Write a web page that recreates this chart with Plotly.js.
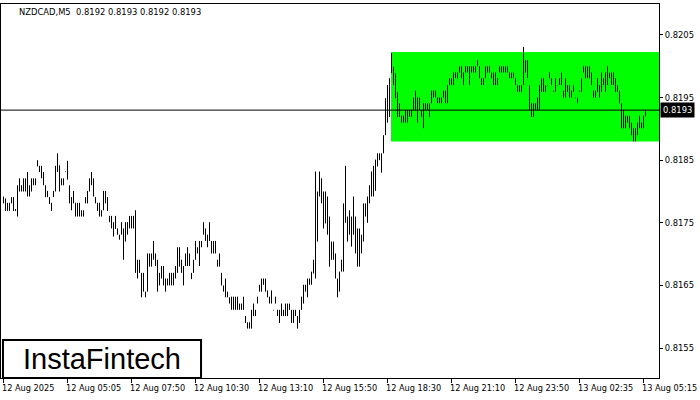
<!DOCTYPE html>
<html>
<head>
<meta charset="utf-8">
<script src="https://cdn.plot.ly/plotly-3.0.1.min.js"></script>
<style>html,body{margin:0;padding:0;background:#fff}#chart{width:700px;height:400px}</style>
</head>
<body>
<div id="chart"></div>
<script>
const symbolTitle = "NZDCAD,M5  0.8192 0.8193 0.8192 0.8193";
const tickIndex = [0, 32, 64, 96, 128, 160, 192, 224, 256, 288, 320];
const tickLabels = ["12 Aug 2025","12 Aug 05:05","12 Aug 07:50","12 Aug 10:30","12 Aug 13:10","12 Aug 15:50","12 Aug 18:30","12 Aug 21:10","12 Aug 23:50","13 Aug 02:35","13 Aug 05:15"];
const priceTicks = [0.8155, 0.8165, 0.8175, 0.8185, 0.8195, 0.8205];
const priceTickLabels = ["0.8155","0.8165","0.8175","0.8185","0.8195","0.8205"];
const lastPrice = 0.8193;
const zoneTop = 0.82023;
const zoneBottom = 0.81880;
const zoneStartBar = 194;

const high = [0.81792,0.81789,0.81782,0.81782,0.81791,0.81791,0.81772,0.81810,0.81821,0.81810,0.81821,0.81821,0.81831,0.81810,0.81821,0.81821,0.81821,0.81850,0.81841,0.81841,
0.81831,0.81810,0.81801,0.81791,0.81782,0.81801,0.81841,0.81861,0.81842,0.81821,0.81821,0.81832,0.81849,0.81810,0.81791,0.81801,0.81782,0.81782,0.81782,0.81770,
0.81770,0.81791,0.81801,0.81821,0.81831,0.81821,0.81791,0.81782,0.81782,0.81770,0.81801,0.81801,0.81791,0.81761,0.81761,0.81751,0.81761,0.81741,0.81731,0.81751,
0.81741,0.81751,0.81751,0.81761,0.81761,0.81761,0.81770,0.81691,0.81691,0.81670,0.81670,0.81640,0.81701,0.81701,0.81701,0.81721,0.81701,0.81691,0.81670,0.81681,
0.81681,0.81661,0.81661,0.81670,0.81670,0.81670,0.81681,0.81711,0.81711,0.81691,0.81681,0.81701,0.81711,0.81701,0.81670,0.81691,0.81721,0.81711,0.81721,0.81721,
0.81751,0.81741,0.81731,0.81751,0.81721,0.81721,0.81721,0.81691,0.81701,0.81670,0.81650,0.81661,0.81640,0.81631,0.81632,0.81632,0.81632,0.81632,0.81621,0.81621,
0.81632,0.81601,0.81591,0.81591,0.81611,0.81621,0.81611,0.81632,0.81651,0.81661,0.81661,0.81661,0.81642,0.81632,0.81642,0.81611,0.81632,0.81611,0.81611,0.81621,
0.81611,0.81621,0.81621,0.81621,0.81611,0.81611,0.81611,0.81601,0.81611,0.81632,0.81651,0.81651,0.81661,0.81661,0.81672,0.81691,0.81832,0.81800,0.81832,0.81821,
0.81800,0.81800,0.81792,0.81760,0.81720,0.81720,0.81701,0.81661,0.81672,0.81691,0.81781,0.81841,0.81760,0.81770,0.81760,0.81792,0.81760,0.81741,0.81741,0.81731,
0.81781,0.81781,0.81792,0.81810,0.81832,0.81841,0.81851,0.81861,0.81861,0.81861,0.81890,0.81949,0.81970,0.81981,0.82021,0.81999,0.81989,0.81959,0.81941,0.81921,
0.81921,0.81930,0.81930,0.81930,0.81930,0.81950,0.81961,0.81950,0.81950,0.81930,0.81941,0.81941,0.81941,0.81941,0.81961,0.81961,0.81961,0.81950,0.81950,0.81950,
0.81961,0.81961,0.81970,0.81981,0.81981,0.81990,0.81990,0.81990,0.82000,0.82000,0.81990,0.82000,0.82000,0.82000,0.82000,0.82000,0.82000,0.82010,0.82000,0.81981,
0.81981,0.82000,0.82000,0.82000,0.81990,0.81990,0.81990,0.81981,0.82000,0.82000,0.82000,0.82000,0.82000,0.81990,0.81990,0.81990,0.81981,0.81970,0.81970,0.81970,
0.82031,0.82010,0.82010,0.81970,0.81941,0.81941,0.81941,0.81950,0.81970,0.81981,0.81981,0.81970,0.81970,0.81990,0.81981,0.81961,0.81981,0.81970,0.81981,0.81990,
0.81961,0.81981,0.81970,0.81970,0.81961,0.81970,0.81950,0.81950,0.81961,0.81981,0.82000,0.82000,0.82000,0.82000,0.81990,0.81961,0.81961,0.81981,0.81970,0.81990,
0.81981,0.81990,0.82000,0.81990,0.81990,0.81990,0.81981,0.81970,0.81961,0.81941,0.81930,0.81921,0.81921,0.81921,0.81910,0.81901,0.81901,0.81910,0.81921,0.81910,
0.81921,0.81930];

const low = [0.81781,0.81769,0.81769,0.81769,0.81781,0.81769,0.81769,0.81760,0.81800,0.81800,0.81800,0.81800,0.81792,0.81792,0.81800,0.81810,0.81810,0.81840,0.81831,0.81821,
0.81810,0.81791,0.81791,0.81780,0.81769,0.81791,0.81800,0.81831,0.81800,0.81810,0.81810,0.81831,0.81819,0.81781,0.81770,0.81781,0.81760,0.81760,0.81760,0.81760,
0.81760,0.81781,0.81781,0.81800,0.81810,0.81792,0.81781,0.81769,0.81760,0.81760,0.81770,0.81781,0.81769,0.81751,0.81741,0.81728,0.81740,0.81731,0.81723,0.81731,
0.81691,0.81720,0.81731,0.81741,0.81741,0.81741,0.81670,0.81661,0.81670,0.81631,0.81640,0.81631,0.81640,0.81680,0.81680,0.81691,0.81681,0.81640,0.81650,0.81661,
0.81650,0.81640,0.81650,0.81650,0.81650,0.81650,0.81661,0.81670,0.81680,0.81670,0.81650,0.81681,0.81681,0.81681,0.81660,0.81670,0.81691,0.81701,0.81681,0.81711,
0.81731,0.81721,0.81711,0.81721,0.81701,0.81701,0.81701,0.81680,0.81680,0.81650,0.81640,0.81631,0.81631,0.81621,0.81611,0.81611,0.81611,0.81611,0.81611,0.81611,
0.81611,0.81590,0.81581,0.81581,0.81581,0.81601,0.81601,0.81621,0.81640,0.81640,0.81651,0.81640,0.81631,0.81621,0.81621,0.81610,0.81621,0.81601,0.81590,0.81601,
0.81601,0.81601,0.81601,0.81611,0.81590,0.81590,0.81601,0.81581,0.81590,0.81611,0.81621,0.81640,0.81631,0.81651,0.81651,0.81669,0.81661,0.81720,0.81792,0.81781,
0.81741,0.81749,0.81731,0.81680,0.81691,0.81691,0.81661,0.81631,0.81640,0.81672,0.81672,0.81750,0.81720,0.81731,0.81712,0.81731,0.81701,0.81680,0.81680,0.81701,
0.81720,0.81760,0.81750,0.81781,0.81792,0.81792,0.81801,0.81840,0.81850,0.81830,0.81861,0.81890,0.81910,0.81919,0.81989,0.81970,0.81949,0.81919,0.81919,0.81910,
0.81910,0.81910,0.81910,0.81919,0.81919,0.81930,0.81930,0.81910,0.81930,0.81919,0.81901,0.81930,0.81930,0.81919,0.81941,0.81950,0.81950,0.81941,0.81941,0.81941,
0.81950,0.81941,0.81941,0.81970,0.81970,0.81970,0.81981,0.81981,0.81990,0.81981,0.81970,0.81990,0.81990,0.81970,0.81990,0.81990,0.81990,0.82000,0.81981,0.81970,
0.81970,0.81981,0.81990,0.81990,0.81981,0.81970,0.81970,0.81970,0.81990,0.81990,0.81990,0.81990,0.81990,0.81981,0.81981,0.81981,0.81970,0.81959,0.81959,0.81959,
0.81970,0.81990,0.81981,0.81930,0.81919,0.81919,0.81930,0.81930,0.81930,0.81959,0.81959,0.81959,0.81969,0.81981,0.81970,0.81959,0.81959,0.81969,0.81970,0.81970,
0.81950,0.81950,0.81959,0.81950,0.81950,0.81959,0.81949,0.81941,0.81959,0.81959,0.81990,0.81981,0.81981,0.81981,0.81970,0.81950,0.81950,0.81959,0.81950,0.81959,
0.81970,0.81959,0.81970,0.81981,0.81970,0.81970,0.81959,0.81959,0.81941,0.81901,0.81901,0.81901,0.81910,0.81901,0.81890,0.81880,0.81880,0.81890,0.81901,0.81901,
0.81901,0.81920];

const open = [0.81792,0.81789,0.81782,0.81769,0.81791,0.81791,0.81769,0.81760,0.81821,0.81800,0.81800,0.81800,0.81831,0.81792,0.81800,0.81810,0.81810,0.81850,0.81841,0.81841,
0.81831,0.81810,0.81801,0.81791,0.81769,0.81791,0.81800,0.81861,0.81842,0.81821,0.81810,0.81831,0.81849,0.81810,0.81770,0.81801,0.81782,0.81782,0.81782,0.81770,
0.81760,0.81781,0.81781,0.81800,0.81831,0.81821,0.81791,0.81782,0.81782,0.81760,0.81770,0.81801,0.81791,0.81761,0.81761,0.81728,0.81761,0.81741,0.81723,0.81751,
0.81691,0.81720,0.81731,0.81741,0.81741,0.81761,0.81770,0.81661,0.81691,0.81631,0.81670,0.81631,0.81640,0.81680,0.81680,0.81721,0.81701,0.81691,0.81650,0.81681,
0.81681,0.81640,0.81650,0.81650,0.81650,0.81650,0.81661,0.81670,0.81711,0.81691,0.81650,0.81681,0.81711,0.81701,0.81660,0.81670,0.81691,0.81711,0.81681,0.81711,
0.81751,0.81741,0.81711,0.81751,0.81721,0.81721,0.81721,0.81680,0.81701,0.81670,0.81640,0.81661,0.81640,0.81631,0.81632,0.81632,0.81632,0.81632,0.81621,0.81611,
0.81632,0.81601,0.81591,0.81581,0.81581,0.81621,0.81601,0.81621,0.81640,0.81640,0.81661,0.81661,0.81642,0.81621,0.81642,0.81610,0.81632,0.81611,0.81590,0.81621,
0.81601,0.81601,0.81601,0.81621,0.81611,0.81590,0.81611,0.81581,0.81590,0.81611,0.81621,0.81640,0.81631,0.81651,0.81651,0.81669,0.81661,0.81720,0.81832,0.81821,
0.81741,0.81800,0.81792,0.81760,0.81720,0.81720,0.81701,0.81631,0.81640,0.81672,0.81672,0.81841,0.81720,0.81770,0.81712,0.81792,0.81760,0.81741,0.81680,0.81701,
0.81720,0.81760,0.81750,0.81781,0.81792,0.81792,0.81801,0.81840,0.81861,0.81830,0.81861,0.81890,0.81910,0.81919,0.82021,0.81999,0.81989,0.81959,0.81941,0.81921,
0.81910,0.81910,0.81910,0.81919,0.81919,0.81930,0.81961,0.81910,0.81950,0.81930,0.81901,0.81930,0.81941,0.81919,0.81941,0.81950,0.81961,0.81950,0.81950,0.81941,
0.81961,0.81941,0.81941,0.81970,0.81970,0.81970,0.81981,0.81981,0.82000,0.82000,0.81970,0.81990,0.82000,0.81970,0.81990,0.81990,0.81990,0.82010,0.82000,0.81981,
0.81970,0.81981,0.81990,0.82000,0.81990,0.81990,0.81990,0.81970,0.81990,0.81990,0.81990,0.81990,0.82000,0.81990,0.81990,0.81990,0.81981,0.81970,0.81970,0.81959,
0.82031,0.82010,0.82010,0.81970,0.81941,0.81919,0.81930,0.81930,0.81930,0.81959,0.81981,0.81959,0.81969,0.81990,0.81981,0.81959,0.81959,0.81969,0.81970,0.81990,
0.81950,0.81981,0.81970,0.81970,0.81950,0.81970,0.81950,0.81941,0.81959,0.81959,0.82000,0.82000,0.82000,0.82000,0.81990,0.81961,0.81950,0.81981,0.81950,0.81959,
0.81981,0.81959,0.81970,0.81990,0.81990,0.81990,0.81981,0.81970,0.81961,0.81941,0.81930,0.81901,0.81921,0.81921,0.81910,0.81901,0.81880,0.81890,0.81921,0.81901,
0.81901,0.81920];

const close = [0.81781,0.81769,0.81769,0.81782,0.81781,0.81769,0.81772,0.81810,0.81800,0.81810,0.81821,0.81821,0.81792,0.81810,0.81821,0.81821,0.81821,0.81840,0.81831,0.81821,
0.81810,0.81791,0.81791,0.81780,0.81782,0.81801,0.81841,0.81831,0.81800,0.81810,0.81821,0.81832,0.81819,0.81781,0.81791,0.81781,0.81760,0.81760,0.81760,0.81760,
0.81770,0.81791,0.81801,0.81821,0.81810,0.81792,0.81781,0.81769,0.81760,0.81770,0.81801,0.81781,0.81769,0.81751,0.81741,0.81751,0.81740,0.81731,0.81731,0.81731,
0.81741,0.81751,0.81751,0.81761,0.81761,0.81741,0.81670,0.81691,0.81670,0.81670,0.81640,0.81640,0.81701,0.81701,0.81701,0.81691,0.81681,0.81640,0.81670,0.81661,
0.81650,0.81661,0.81661,0.81670,0.81670,0.81670,0.81681,0.81711,0.81680,0.81670,0.81681,0.81701,0.81681,0.81681,0.81670,0.81691,0.81721,0.81701,0.81721,0.81721,
0.81731,0.81721,0.81731,0.81721,0.81701,0.81701,0.81701,0.81691,0.81680,0.81650,0.81650,0.81631,0.81631,0.81621,0.81611,0.81611,0.81611,0.81611,0.81611,0.81621,
0.81611,0.81590,0.81581,0.81591,0.81611,0.81601,0.81611,0.81632,0.81651,0.81661,0.81651,0.81640,0.81631,0.81632,0.81621,0.81611,0.81621,0.81601,0.81611,0.81601,
0.81611,0.81621,0.81621,0.81611,0.81590,0.81611,0.81601,0.81601,0.81611,0.81632,0.81651,0.81651,0.81661,0.81661,0.81672,0.81691,0.81832,0.81800,0.81792,0.81781,
0.81800,0.81749,0.81731,0.81680,0.81691,0.81691,0.81661,0.81661,0.81672,0.81691,0.81781,0.81750,0.81760,0.81731,0.81760,0.81731,0.81701,0.81680,0.81741,0.81731,
0.81781,0.81781,0.81792,0.81810,0.81832,0.81841,0.81851,0.81861,0.81850,0.81861,0.81890,0.81949,0.81970,0.81981,0.81989,0.81970,0.81949,0.81919,0.81919,0.81910,
0.81921,0.81930,0.81930,0.81930,0.81930,0.81950,0.81930,0.81950,0.81930,0.81919,0.81941,0.81941,0.81930,0.81941,0.81961,0.81961,0.81950,0.81941,0.81941,0.81950,
0.81950,0.81961,0.81970,0.81981,0.81981,0.81990,0.81990,0.81990,0.81990,0.81981,0.81990,0.82000,0.81990,0.82000,0.82000,0.82000,0.82000,0.82000,0.81981,0.81970,
0.81981,0.82000,0.82000,0.81990,0.81981,0.81970,0.81970,0.81981,0.82000,0.82000,0.82000,0.82000,0.81990,0.81981,0.81981,0.81981,0.81970,0.81959,0.81959,0.81970,
0.81970,0.81990,0.81981,0.81930,0.81919,0.81941,0.81941,0.81950,0.81970,0.81981,0.81959,0.81970,0.81970,0.81981,0.81970,0.81961,0.81981,0.81970,0.81981,0.81970,
0.81961,0.81950,0.81959,0.81950,0.81961,0.81959,0.81949,0.81950,0.81961,0.81981,0.81990,0.81981,0.81981,0.81981,0.81970,0.81950,0.81961,0.81959,0.81970,0.81990,
0.81970,0.81990,0.82000,0.81981,0.81970,0.81970,0.81959,0.81959,0.81941,0.81901,0.81901,0.81921,0.81910,0.81901,0.81890,0.81880,0.81901,0.81910,0.81901,0.81910,
0.81921,0.81930];

const barIndex = high.map((_, i) => i);
const font = "DejaVu Sans, Verdana, sans-serif";
const logoFont = "Liberation Sans, Arial, sans-serif";

const trace = {
  type: "ohlc",
  x: barIndex, open: open, high: high, low: low, close: close,
  increasing: {line: {color: "#000000", width: 1}},
  decreasing: {line: {color: "#000000", width: 1}},
  tickwidth: 0,
  hoverinfo: "skip",
  showlegend: false
};

const timeLabelAnnotations = tickIndex.map((idx, k) => ({
  text: tickLabels[k], xref: "x", yref: "paper", x: idx, y: -0.0275,
  xanchor: "left", yanchor: "middle", xshift: -3, borderpad: 0, showarrow: false,
  font: {family: font, size: 8.2, color: "#000000"}
}));

const layout = {
  width: 700, height: 400,
  margin: {l: 1, r: 41, t: 4, b: 22, pad: 0},
  paper_bgcolor: "#ffffff", plot_bgcolor: "#ffffff",
  showlegend: false,
  xaxis: {
    range: [-1.25, 327.75], fixedrange: true,
    rangeslider: {visible: false},
    showgrid: false, zeroline: false,
    showline: true, mirror: true, linecolor: "#000000", linewidth: 1,
    ticks: "outside", ticklen: 4, tickcolor: "#000000", tickwidth: 1,
    tickvals: tickIndex, showticklabels: false
  },
  yaxis: {
    side: "right", range: [0.815021, 0.820995], fixedrange: true,
    showgrid: false, zeroline: false,
    showline: true, mirror: true, linecolor: "#000000", linewidth: 1,
    ticks: "outside", ticklen: 3, tickcolor: "#000000", tickwidth: 1,
    tickvals: priceTicks, ticktext: priceTickLabels,
    tickfont: {family: font, size: 8.4, color: "#000000"}
  },
  shapes: [
    {type: "rect", xref: "x", yref: "y", x0: zoneStartBar - 0.25, x1: 327.75, y0: zoneBottom, y1: zoneTop,
     fillcolor: "#00ff00", line: {width: 0}, layer: "below"},
    {type: "line", xref: "paper", yref: "y", x0: 0, x1: 1, y0: lastPrice, y1: lastPrice,
     line: {color: "#000000", width: 1}, layer: "above"},
    {type: "rect", xref: "paper", yref: "paper", x0: 0.0030, x1: 0.3040, y0: 0.0, y1: 0.1016,
     fillcolor: "#ffffff", line: {color: "#000000", width: 2}, layer: "above"}
  ],
  annotations: [
    {text: symbolTitle, xref: "paper", yref: "paper", x: 0.025, y: 0.979, xanchor: "left", yanchor: "middle",
     showarrow: false, font: {family: font, size: 8.4, color: "#000000"}},
    {text: "0.8193", xref: "paper", yref: "y", x: 1, y: lastPrice, xanchor: "left", yanchor: "middle", xshift: 1,
     showarrow: false, bgcolor: "#000000", borderpad: 2, font: {family: font, size: 8.4, color: "#ffffff"}},
    {text: "InstaFintech", xref: "paper", yref: "paper", x: 0.1535, y: 0.0508, xanchor: "center", yanchor: "middle",
     showarrow: false, font: {family: logoFont, size: 29, color: "#000000"}}
  ].concat(timeLabelAnnotations)
};

Plotly.newPlot("chart", [trace], layout, {staticPlot: true, displayModeBar: false});
</script>
</body>
</html>
